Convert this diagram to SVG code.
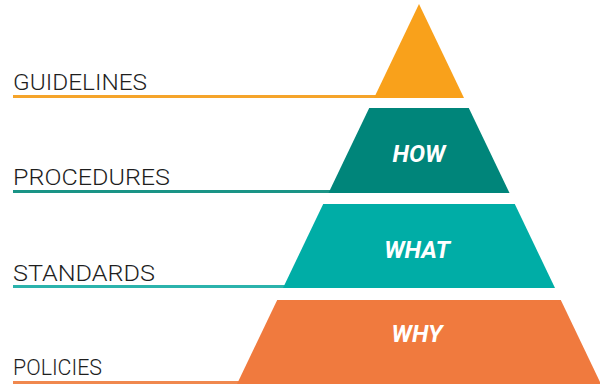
<svg xmlns="http://www.w3.org/2000/svg" width="600" height="390" viewBox="0 0 600 390">
  <style>
    .lbl { font-family: Roboto, "Liberation Sans", sans-serif; font-weight: 300; font-size: 22px; fill: #1e1e1e; }
    .tier { font-family: Roboto, "Liberation Sans", sans-serif; font-weight: 700; font-style: italic; font-size: 24px; fill: #ffffff; text-anchor: middle; }
    .ln { stroke-width: 3; fill: none; }
  </style>
  <rect width="600" height="390" fill="#ffffff"/>
  <g id="connectors">
    <line class="ln" x1="13" y1="96.5" x2="376" y2="96.5" stroke="#F5A42A"/>
    <line class="ln" x1="13" y1="191.5" x2="330" y2="191.5" stroke="#1A9486"/>
    <line class="ln" x1="13" y1="286.5" x2="285" y2="286.5" stroke="#2BB3AC"/>
    <line class="ln" x1="13" y1="382.5" x2="239" y2="382.5" stroke="#F0884E"/>
  </g>
  <g id="guidelines">
    <polygon points="419,4 464,98 374,98" fill="#F9A11B"/>
    <text class="lbl" x="13" y="90" textLength="134" lengthAdjust="spacingAndGlyphs">GUIDELINES</text>
  </g>
  <g id="procedures">
    <polygon points="369.2,108 468.8,108 509.5,193 328.5,193" fill="#00857A"/>
    <text class="tier" x="419" y="162">HOW</text>
    <text class="lbl" x="13" y="185" textLength="157" lengthAdjust="spacingAndGlyphs">PROCEDURES</text>
  </g>
  <g id="standards">
    <polygon points="323.2,204 514.8,204 555,288 283,288" fill="#00ADA6"/>
    <text class="tier" x="417" y="258">WHAT</text>
    <text class="lbl" x="13" y="281" textLength="142" lengthAdjust="spacingAndGlyphs">STANDARDS</text>
  </g>
  <g id="policies">
    <polygon points="277.2,300 560.8,300 601,384 237,384" fill="#F07A3E"/>
    <text class="tier" x="417" y="342">WHY</text>
    <text class="lbl" x="13" y="375" textLength="89" lengthAdjust="spacingAndGlyphs">POLICIES</text>
  </g>
</svg>
